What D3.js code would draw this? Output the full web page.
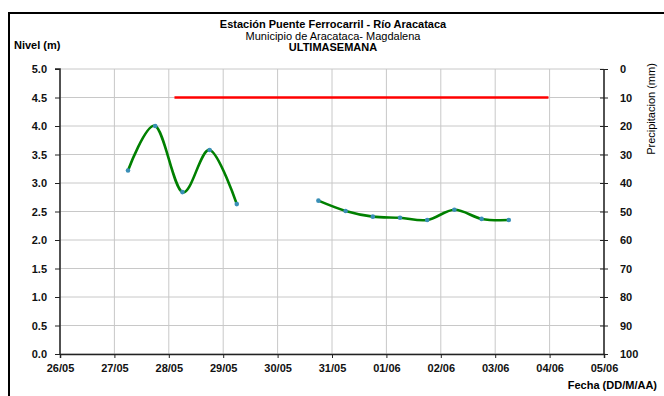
<!DOCTYPE html>
<html><head><meta charset="utf-8">
<script src="https://cdn.jsdelivr.net/npm/d3@7"></script>
<style>body{margin:0;background:#fff}svg{display:block}text{font-family:"Liberation Sans",Arial,sans-serif}</style>
</head><body>
<script>
const tickDates = ["2023-05-26","2023-05-27","2023-05-28","2023-05-29","2023-05-30","2023-05-31","2023-06-01","2023-06-02","2023-06-03","2023-06-04","2023-06-05"];
const tickLabels = ["26/05","27/05","28/05","29/05","30/05","31/05","01/06","02/06","03/06","04/06","05/06"];
const nivelSeg1Times = ["2023-05-27T06:00","2023-05-27T18:00","2023-05-28T06:00","2023-05-28T18:00","2023-05-29T06:00"];
const nivelSeg1 = [3.22, 4.00, 2.84, 3.58, 2.63];
const nivelSeg2Times = ["2023-05-30T18:00","2023-05-31T06:00","2023-05-31T18:00","2023-06-01T06:00","2023-06-01T18:00","2023-06-02T06:00","2023-06-02T18:00","2023-06-03T06:00"];
const nivelSeg2 = [2.69, 2.51, 2.41, 2.39, 2.35, 2.53, 2.37, 2.35];
const precipTimes = ["2023-05-28T02:30","2023-06-03T23:30"];
const precipValues = [10, 10];
const leftTicks = [0,0.5,1,1.5,2,2.5,3,3.5,4,4.5,5];
const rightTicks = [0,10,20,30,40,50,60,70,80,90,100];

const W=664,H=396;
const svg=d3.select("body").append("svg").attr("width",W).attr("height",H);
const pd=d3.timeParse("%Y-%m-%d"), pt=d3.timeParse("%Y-%m-%dT%H:%M");
const x=d3.scaleTime().domain([pd(tickDates[0]),pd(tickDates[tickDates.length-1])]).range([60,604]);
const y=d3.scaleLinear().domain([0,5]).range([354,69]);
const yR=d3.scaleLinear().domain([0,100]).range([69,354]);

// outer frame
svg.append("path").attr("d","M9,396 V13 H664").attr("fill","none").attr("stroke","#000").attr("stroke-width",2);

// grid
const g=svg.append("g");
g.selectAll("line.h").data(leftTicks).join("line").attr("x1",60).attr("x2",604).attr("y1",d=>y(d)).attr("y2",d=>y(d)).attr("stroke","#c8c8c8").attr("stroke-width",1);
g.selectAll("line.v").data(tickDates).join("line").attr("x1",d=>x(pd(d))).attr("x2",d=>x(pd(d))).attr("y1",69).attr("y2",354).attr("stroke","#c8c8c8").attr("stroke-width",1);

// axes
const lab=new Map(tickDates.map((d,i)=>[+pd(d),tickLabels[i]]));
const ax=d3.axisBottom(x).tickValues(tickDates.map(pd)).tickSize(4).tickFormat(d=>lab.get(+d));
const gx=svg.append("g").attr("transform","translate(0,354)").call(ax);
const ay=d3.axisLeft(y).tickValues(leftTicks).tickSize(5).tickFormat(d3.format(".1f"));
const gy=svg.append("g").attr("transform","translate(60,0)").call(ay);
const ar=d3.axisRight(yR).tickValues(rightTicks).tickSize(5).tickFormat(d3.format("d"));
const gr=svg.append("g").attr("transform","translate(604,0)").call(ar);
[gx,gy,gr].forEach(a=>{a.select(".domain").attr("stroke","#222").attr("stroke-width",1.5);a.selectAll(".tick line").attr("stroke","#222");a.selectAll("text").attr("font-size",11).attr("font-weight","bold").attr("fill","#111").style("font-family","'Liberation Sans',Arial,sans-serif");});
gx.selectAll("text").attr("dy","0.9em").attr("y",8);
gy.selectAll("text").attr("x",-13);
gr.selectAll(".tick line").attr("x1",-4).attr("x2",4);
gr.selectAll("text").attr("x",16);
gr.select(".domain").attr("d","M0,69V354");
gy.select(".domain").attr("d","M-5,69H0V354");

// precip line
const pl=d3.line().x(d=>x(d[0])).y(d=>yR(d[1]));
svg.append("path").datum(precipTimes.map((t,i)=>[pt(t),precipValues[i]])).attr("d",pl).attr("fill","none").attr("stroke","#ff0000").attr("stroke-width",2.5);

// nivel
const nl=d3.line().x(d=>x(d[0])).y(d=>y(d[1])).curve(d3.curveCardinal.tension(0));
[[nivelSeg1Times,nivelSeg1],[nivelSeg2Times,nivelSeg2]].forEach(([ts,vs])=>{
  const data=ts.map((t,i)=>[pt(t),vs[i]]);
  svg.append("path").datum(data).attr("d",nl).attr("fill","none").attr("stroke","#008000").attr("stroke-width",2.6);
  svg.selectAll(null).data(data).join("circle").attr("cx",d=>x(d[0])).attr("cy",d=>y(d[1])).attr("r",2.3).attr("fill","#3a8fb7");
});

// titles
const t=(s,xx,yy,o={})=>svg.append("text").attr("x",xx).attr("y",yy).attr("font-size",o.fs||11).attr("font-weight",o.fw||"bold").attr("text-anchor",o.a||"middle").attr("fill","#000").text(s);
t("Estación Puente Ferrocarril - Río Aracataca",333,28);
t("Municipio de Aracataca- Magdalena",333,40,{fw:"normal"});
t("ULTIMASEMANA",333,51);
t("Nivel (m)",14,49,{a:"start"});
t("Fecha (DD/M/AA)",657,389,{a:"end"});
svg.append("text").attr("transform","translate(655,109) rotate(-90)").attr("text-anchor","middle").attr("font-size",11).attr("fill","#000").text("Precipitacion (mm)");
</script>
</body></html>
